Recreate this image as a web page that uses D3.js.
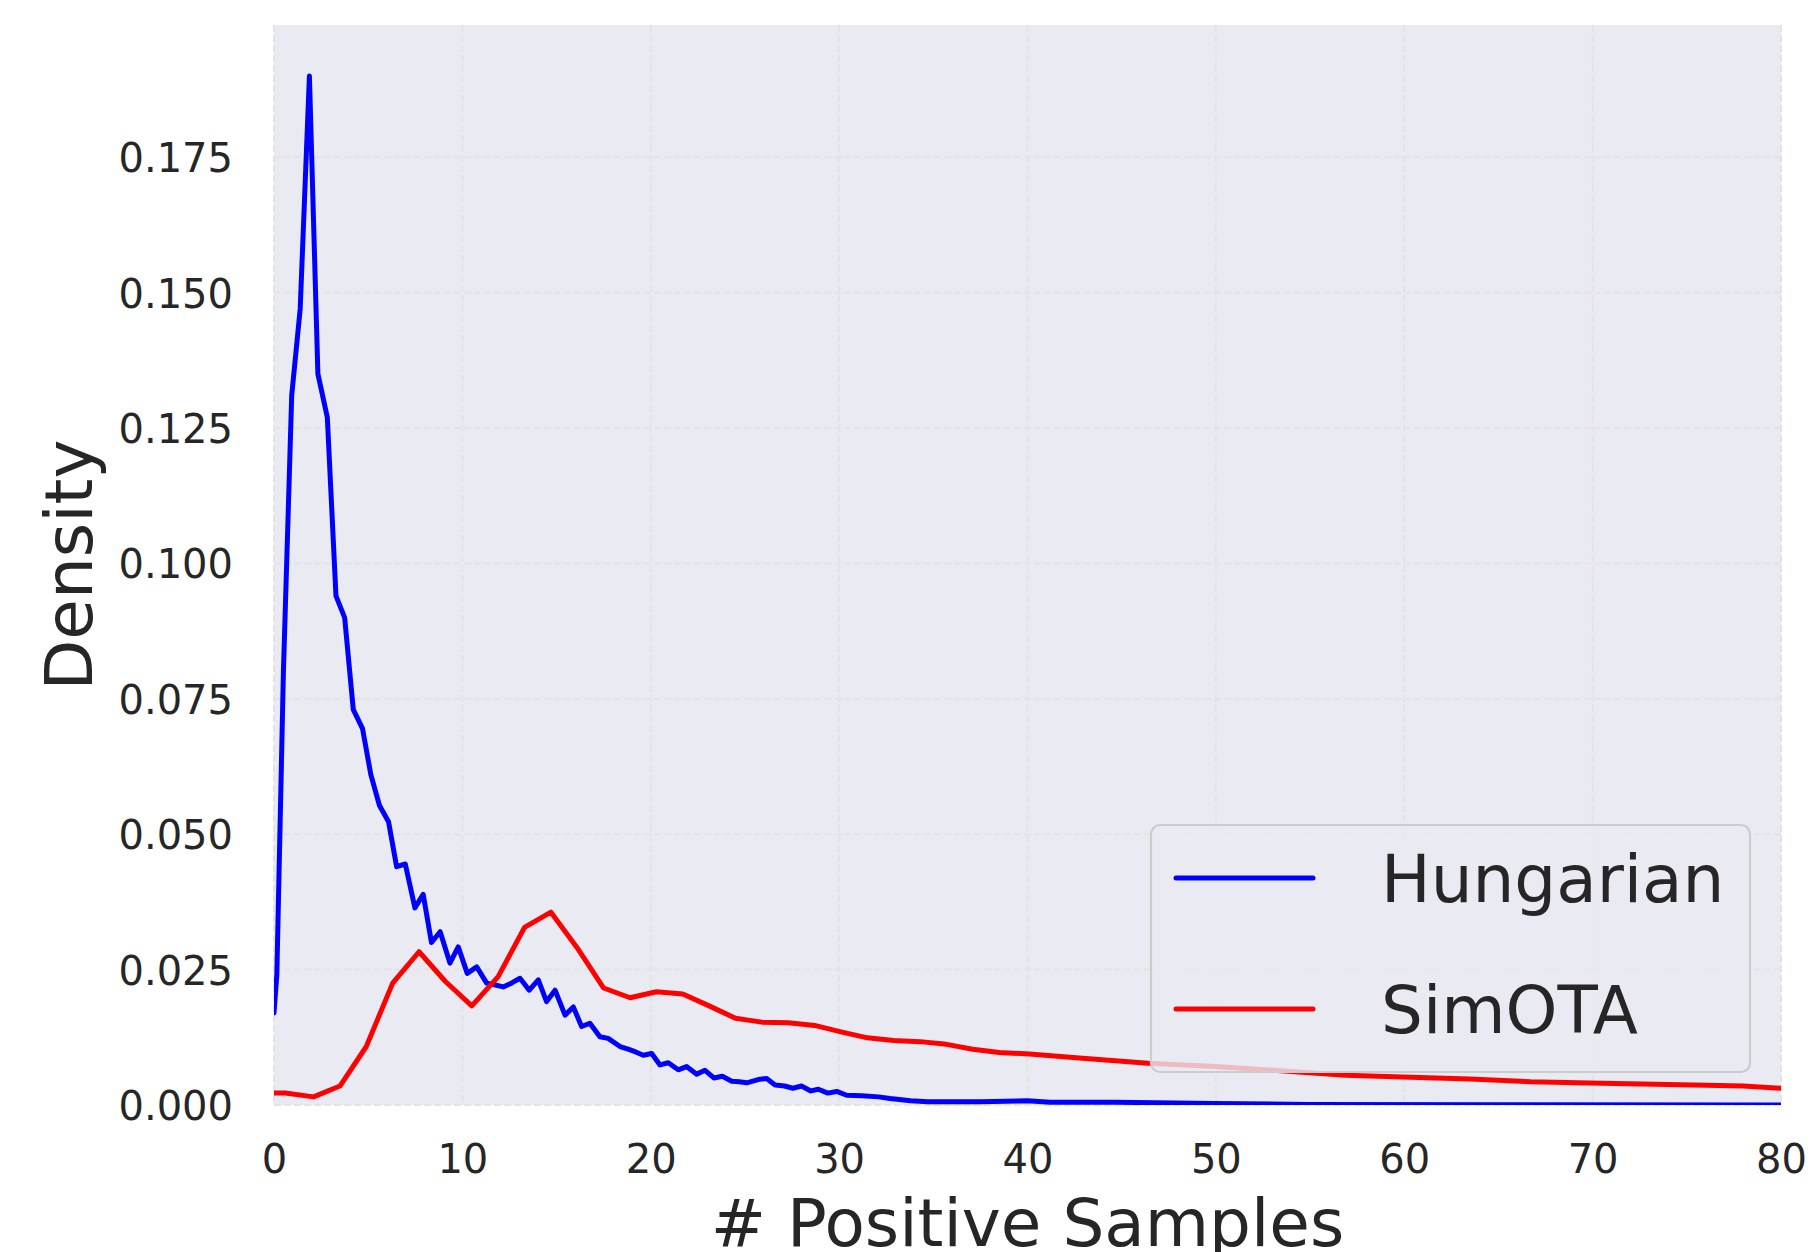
<!DOCTYPE html>
<html>
<head>
<meta charset="utf-8">
<script src="https://cdn.jsdelivr.net/npm/d3@7"></script>
<style>
  html, body { margin: 0; padding: 0; background: #ffffff; }
  svg { display: block; }
</style>
</head>
<body>
<svg id="chart" width="1817" height="1252"></svg>
<script>
// ---- Data ----
const xTicks = [0, 10, 20, 30, 40, 50, 60, 70, 80];
const yTicks = [0, 0.025, 0.05, 0.075, 0.1, 0.125, 0.15, 0.175];

const seriesNames = ["Hungarian", "SimOTA"];
const seriesColors = ["#0000ff", "#ff0000"];

const hungarianX = [0, 0.15, 0.5, 0.94, 1.39, 1.88, 2.33, 2.83, 3.29, 3.75, 4.21, 4.7, 5.14, 5.6, 6.08, 6.51, 6.97, 7.48, 7.92, 8.36, 8.82, 9.34, 9.78, 10.26, 10.76, 11.29, 11.7, 12.17, 12.6, 13.06, 13.55, 14.03, 14.47, 14.92, 15.45, 15.89, 16.33, 16.77, 17.3, 17.74, 18.37, 18.8, 19.2, 19.6, 20.05, 20.49, 20.93, 21.46, 21.9, 22.44, 22.88, 23.35, 23.8, 24.3, 24.7, 25.1, 25.7, 26.15, 26.6, 27.1, 27.55, 28.0, 28.5, 28.9, 29.4, 29.87, 30.4, 31.2, 32.1, 32.7, 33.8, 34.7, 37.5, 40.0, 41.2, 44.7, 49.9, 55, 65, 80];
const hungarianY = [0.017, 0.024, 0.080, 0.131, 0.147, 0.190, 0.135, 0.127, 0.094, 0.090, 0.073, 0.0695, 0.061, 0.0553, 0.0523, 0.044, 0.0445, 0.0364, 0.0389, 0.030, 0.032, 0.0262, 0.0292, 0.0243, 0.0255, 0.0225, 0.0222, 0.0218, 0.0225, 0.0234, 0.0212, 0.0231, 0.0191, 0.0212, 0.0166, 0.0181, 0.0145, 0.0151, 0.0126, 0.0123, 0.0108, 0.0103, 0.0098, 0.0092, 0.0095, 0.0074, 0.0078, 0.0065, 0.0071, 0.0057, 0.0064, 0.0050, 0.0053, 0.0044, 0.0043, 0.0041, 0.0047, 0.0049, 0.0037, 0.0035, 0.0031, 0.0035, 0.0026, 0.0029, 0.0022, 0.0025, 0.0018, 0.0017, 0.0015, 0.0012, 0.0008, 0.0006, 0.0006, 0.0008, 0.0005, 0.0005, 0.0003, 0.0001, 0.00005, 0.0];

const simotaX = [0, 0.6, 2.1, 3.5, 4.9, 6.3, 7.7, 9.1, 10.5, 11.9, 13.3, 14.7, 16.1, 17.5, 18.9, 20.3, 21.7, 23.1, 24.5, 25.9, 27.3, 28.7, 30.1, 31.5, 32.9, 34.3, 35.7, 37.1, 38.5, 40.1, 43.1, 46.4, 50, 51.8, 54, 56.9, 60.8, 63.5, 66.7, 70.5, 75.4, 78, 80];
const simotaY = [0.0022, 0.0022, 0.0015, 0.0035, 0.0108, 0.0225, 0.0283, 0.0228, 0.0183, 0.0237, 0.0328, 0.0356, 0.0290, 0.0216, 0.0198, 0.0209, 0.0205, 0.0183, 0.0160, 0.0153, 0.0152, 0.0147, 0.0135, 0.0124, 0.0119, 0.0117, 0.0112, 0.0103, 0.0097, 0.0094, 0.0086, 0.0077, 0.0071, 0.0067, 0.0062, 0.0055, 0.0051, 0.0048, 0.0043, 0.0040, 0.0037, 0.0035, 0.0031];

// ---- Layout ----
const svg = d3.select("#chart");
const plotL = 274, plotR = 1781, plotT = 25, plotB = 1105;
const font = "DejaVu Sans, sans-serif";
const textColor = "#262626";

const x = d3.scaleLinear().domain([0, 80]).range([plotL, plotR]);
const y = d3.scaleLinear().domain([0, 0.19942]).range([plotB, plotT]);

svg.append("rect").attr("x", plotL).attr("y", plotT)
  .attr("width", plotR - plotL).attr("height", plotB - plotT)
  .attr("fill", "#eaeaf2");

svg.append("defs").append("clipPath").attr("id", "plotclip")
  .append("rect").attr("x", plotL).attr("y", plotT)
  .attr("width", plotR - plotL).attr("height", plotB - plotT);

// grid
const grid = svg.append("g");
grid.selectAll("line.gx").data(xTicks).join("line")
  .attr("x1", d => x(d)).attr("x2", d => x(d))
  .attr("y1", plotT).attr("y2", plotB)
  .attr("stroke", "#e3e3e6").attr("stroke-width", 2).attr("stroke-dasharray", "7,3");
grid.selectAll("line.gy").data(yTicks).join("line")
  .attr("x1", plotL).attr("x2", plotR)
  .attr("y1", d => y(d)).attr("y2", d => y(d))
  .attr("stroke", "#e3e3e6").attr("stroke-width", 2).attr("stroke-dasharray", "7,3");

// axes
const xAxis = d3.axisBottom(x).tickValues(xTicks).tickSize(0).tickPadding(0).tickFormat(d3.format("d"));
const gx = svg.append("g").attr("transform", `translate(0,${plotB})`).call(xAxis);
gx.select(".domain").remove();
gx.selectAll("text").attr("font-family", font).attr("font-size", 40)
  .attr("fill", textColor).attr("dy", null).attr("y", 68);

const yAxis = d3.axisLeft(y).tickValues(yTicks).tickSize(0).tickPadding(0).tickFormat(d3.format(".3f"));
const gy = svg.append("g").attr("transform", `translate(${plotL},0)`).call(yAxis);
gy.select(".domain").remove();
gy.selectAll("text").attr("font-family", font).attr("font-size", 40)
  .attr("fill", textColor).attr("x", -41).attr("dy", "0.36em");

// axis labels
svg.append("text").attr("x", (plotL + plotR) / 2).attr("y", 1246)
  .attr("text-anchor", "middle").attr("font-family", font).attr("font-size", 66)
  .attr("fill", textColor).text("# Positive Samples");
svg.append("text").attr("transform", `translate(92,565) rotate(-90)`)
  .attr("text-anchor", "middle").attr("font-family", font).attr("font-size", 66)
  .attr("fill", textColor).text("Density");

// lines
const line = d3.line().x(d => x(d[0])).y(d => y(d[1]));
const series = [
  hungarianX.map((v, i) => [v, hungarianY[i]]),
  simotaX.map((v, i) => [v, simotaY[i]])
];
const lg = svg.append("g").attr("clip-path", "url(#plotclip)");
series.forEach((s, i) => {
  lg.append("path").datum(s).attr("d", line)
    .attr("fill", "none").attr("stroke", seriesColors[i])
    .attr("stroke-width", 5).attr("stroke-linejoin", "round").attr("stroke-linecap", "round");
});

// legend
const leg = svg.append("g");
leg.append("rect").attr("x", 1151).attr("y", 825).attr("width", 599).attr("height", 247)
  .attr("rx", 9).attr("ry", 9)
  .attr("fill", "#eaeaf2").attr("fill-opacity", 0.8)
  .attr("stroke", "#cccccc").attr("stroke-width", 2.2);
const legY = [878, 1009];
seriesNames.forEach((name, i) => {
  leg.append("line").attr("x1", 1176).attr("x2", 1313).attr("y1", legY[i]).attr("y2", legY[i])
    .attr("stroke", seriesColors[i]).attr("stroke-width", 5).attr("stroke-linecap", "round");
  leg.append("text").attr("x", 1381).attr("y", legY[i]).attr("dy", "0.36em")
    .attr("font-family", font).attr("font-size", 66).attr("fill", textColor).text(name);
});
</script>
</body>
</html>
